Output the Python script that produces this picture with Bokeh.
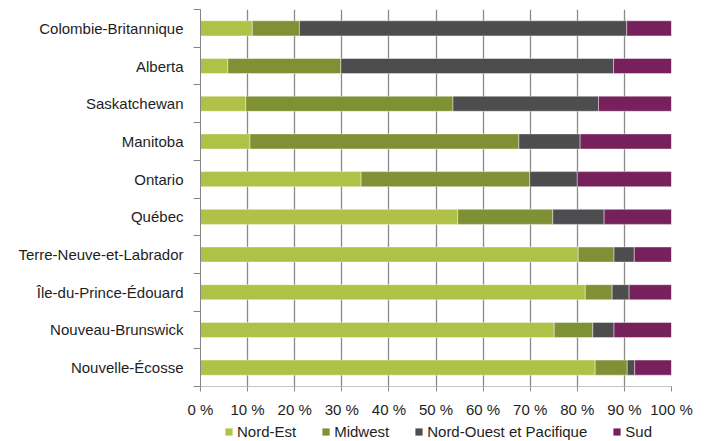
from bokeh.plotting import figure
from bokeh.layouts import column
from bokeh.models import (ColumnDataSource, Range1d, FixedTicker, Legend, LegendItem)
from bokeh.embed import file_html
from bokeh.resources import INLINE

# ---- data ----
categories = ["Colombie-Britannique", "Alberta", "Saskatchewan", "Manitoba", "Ontario",
              "Québec", "Terre-Neuve-et-Labrador", "Île-du-Prince-Édouard",
              "Nouveau-Brunswick", "Nouvelle-Écosse"]
nord_est = [11.0, 5.8, 9.6, 10.5, 34.1, 54.6, 80.2, 81.7, 75.1, 83.8]
midwest = [10.0, 24.0, 44.0, 57.1, 35.8, 20.2, 7.6, 5.7, 8.2, 6.8]
nord_ouest_pacifique = [69.5, 57.9, 30.9, 13.0, 10.1, 10.9, 4.3, 3.6, 4.5, 1.6]
sud = [9.5, 12.3, 15.5, 19.4, 20.0, 14.3, 7.9, 9.0, 12.2, 7.8]

series_names = ["Nord-Est", "Midwest", "Nord-Ouest et Pacifique", "Sud"]
x_ticks = [0, 10, 20, 30, 40, 50, 60, 70, 80, 90, 100]
x_tick_labels = ["0 %", "10 %", "20 %", "30 %", "40 %", "50 %", "60 %", "70 %", "80 %", "90 %", "100 %"]

colors = ["#afc147", "#809135", "#4d4d4f", "#76215c"]
FONT = "Liberation Sans"
TEXT_COLOR = "#1e1e1e"

n = len(categories)
ypos = [n - 1 - i for i in range(n)]  # first category at top

source = ColumnDataSource(dict(
    y=ypos, cat=categories,
    ne=nord_est, mw=midwest, nop=nord_ouest_pacifique, sud=sud,
))
keys = ["ne", "mw", "nop", "sud"]

p = figure(width=710, height=420, output_backend="svg", toolbar_location=None,
           x_range=Range1d(0, 100), y_range=Range1d(-0.5, n - 0.5),
           min_border_left=200, min_border_right=39, min_border_top=9, min_border_bottom=33)
p.outline_line_color = None
p.background_fill_color = "white"
p.border_fill_color = "white"

renderers = p.hbar_stack(keys, y="y", height=0.4, color=colors, source=source,
                         line_color="white", line_width=0.6, line_alpha=0.7)

# x axis
p.xaxis.ticker = FixedTicker(ticks=x_ticks)
p.xaxis.major_label_overrides = {t: l for t, l in zip(x_ticks, x_tick_labels)}
p.xaxis.axis_line_color = "#c4c4c4"
p.xaxis.major_tick_line_color = "#8a8a8a"
p.xaxis.major_tick_out = 5
p.xaxis.major_tick_in = 0
p.xaxis.minor_tick_line_color = None
p.xaxis.major_label_standoff = 9
p.xaxis.major_label_text_font = FONT
p.xaxis.major_label_text_font_size = "15px"
p.xaxis.major_label_text_color = TEXT_COLOR

# y axis: labels at centres, tick marks between categories
p.yaxis.ticker = FixedTicker(ticks=ypos, minor_ticks=[v - 0.5 for v in range(n + 1)])
p.yaxis.major_label_overrides = {y: c for y, c in zip(ypos, categories)}
p.yaxis.axis_line_color = "#868686"
p.yaxis.major_tick_line_color = None
p.yaxis.major_tick_out = 0
p.yaxis.major_tick_in = 0
p.yaxis.minor_tick_line_color = "#868686"
p.yaxis.minor_tick_out = 7
p.yaxis.minor_tick_in = 0
p.yaxis.major_label_standoff = 10
p.yaxis.major_label_text_font = FONT
p.yaxis.major_label_text_font_size = "15px"
p.yaxis.major_label_text_color = TEXT_COLOR

# grid
p.xgrid.ticker = FixedTicker(ticks=x_ticks)
p.xgrid.grid_line_color = "#8a8a8a"
p.xgrid.grid_line_width = 1.3
p.ygrid.grid_line_color = None

# ---- legend strip below the chart (swatch renderers sit outside the visible range) ----
lf = figure(width=710, height=21, output_backend="svg", toolbar_location=None,
            x_range=Range1d(0, 1), y_range=Range1d(0, 1),
            min_border_left=0, min_border_right=0, min_border_top=0, min_border_bottom=0)
lf.axis.visible = False
lf.grid.grid_line_color = None
lf.outline_line_color = None
lf.background_fill_color = "white"
lf.border_fill_color = "white"
swatches = [lf.quad(left=[-3], right=[-2], top=[-2], bottom=[-3], fill_color=c, line_color=None)
            for c in colors]

legend = Legend(items=[LegendItem(label=nm, renderers=[r]) for nm, r in zip(series_names, swatches)],
                orientation="horizontal", location=(24, 1),
                glyph_width=9, glyph_height=9, label_height=14, label_standoff=4,
                spacing=25, padding=0, margin=0,
                label_text_font=FONT, label_text_font_size="15px",
                label_text_color=TEXT_COLOR,
                border_line_color=None, background_fill_alpha=0)
lf.add_layout(legend, "center")

layout = column(p, lf, spacing=0)
open("out.html", "w").write(file_html(layout, INLINE))
